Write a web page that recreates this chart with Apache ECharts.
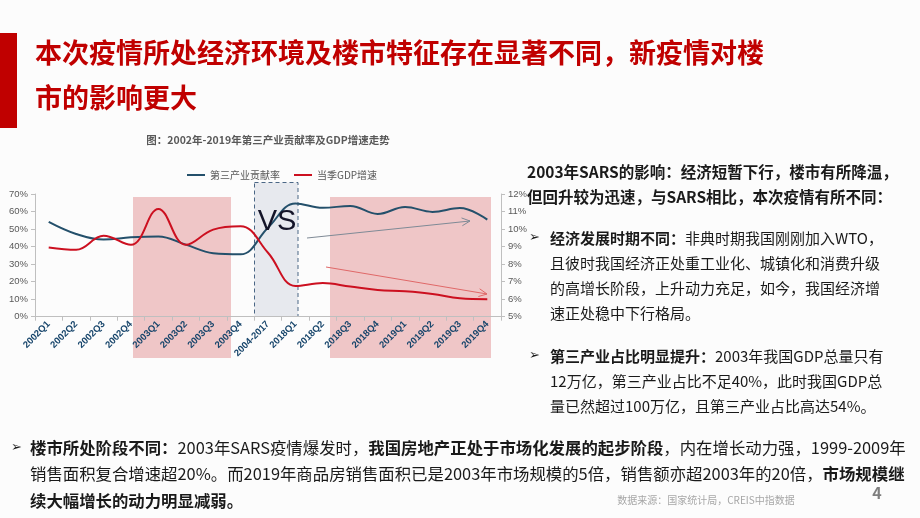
<!DOCTYPE html>
<html>
<head>
<meta charset="utf-8">
<script src="https://cdn.jsdelivr.net/npm/echarts@6/dist/echarts.min.js"></script>
<style>
html,body{margin:0;padding:0;background:#fcfcfc;}
#c{width:920px;height:518px;}
</style>
</head>
<body>
<div id="c"></div>
<script>
// ---- data ----
var categories = ['2002Q1','2002Q2','2002Q3','2002Q4','2003Q1','2003Q2','2003Q3','2003Q4','2004-2017','2018Q1','2018Q2','2018Q3','2018Q4','2019Q1','2019Q2','2019Q3','2019Q4'];
var tertiaryContribution = [54.1, 47.2, 44.0, 45.3, 45.8, 41.1, 36.2, 35.6, 50.8, 64.6, 62.1, 63.2, 58.6, 62.6, 59.8, 62.0, 55.4];
var gdpGrowth = [8.95, 8.82, 9.62, 9.1, 11.15, 9.1, 9.97, 10.16, 8.65, 6.75, 6.92, 6.72, 6.53, 6.45, 6.3, 6.05, 6.0];
var leftTicks = [0, 70, 10];   // min, max, interval
var rightTicks = [5, 12, 1];
var seriesNames = ['第三产业贡献率', '当季GDP增速'];

var FONT = '"Noto Sans CJK SC", "Noto Sans", sans-serif';
var chart = echarts.init(document.getElementById('c'), null, {renderer: 'canvas'});

function txt(x, y, text, size, opts) {
  opts = opts || {};
  return {
    type: 'text', x: x, y: y, z: 100,
    style: {
      text: text,
      fontSize: size,
      fontWeight: opts.bold ? 'bold' : 'normal',
      fontFamily: opts.family || FONT,
      fill: opts.color || '#1a1a1a',
      verticalAlign: 'middle',
      align: opts.align || 'left',
      rich: opts.rich
    }
  };
}
function richStyles(size, color) {
  return {
    b: {fontSize: size, fontWeight: 'bold', fontFamily: FONT, fill: color || '#1a1a1a'},
    n: {fontSize: size, fontWeight: 'normal', fontFamily: FONT, fill: color || '#1a1a1a'}
  };
}
function arrow(x1, y1, x2, y2, color) {
  var ang = Math.atan2(y2 - y1, x2 - x1);
  var L = 9, a = 0.45;
  var p1 = [x2 - L * Math.cos(ang - a), y2 - L * Math.sin(ang - a)];
  var p2 = [x2 - L * Math.cos(ang + a), y2 - L * Math.sin(ang + a)];
  return [
    {type: 'line', z: 50, shape: {x1: x1, y1: y1, x2: x2, y2: y2}, style: {stroke: color, lineWidth: 1}},
    {type: 'polyline', z: 50, shape: {points: [p1, [x2, y2], p2]}, style: {stroke: color, lineWidth: 1, fill: null}}
  ];
}

var rs15 = richStyles(15);
var rs16 = richStyles(16.4);

var graphics = [
  // red side bar
  {type: 'rect', z: 1, shape: {x: 0, y: 33, width: 17, height: 95}, style: {fill: '#c00000'}},
  txt(35, 53, '本次疫情所处经济环境及楼市特征存在显著不同，新疫情对楼', 27, {bold: true, color: '#c00000'}),
  txt(35, 98, '市的影响更大', 27, {bold: true, color: '#c00000'}),
  // chart title
  txt(268, 140, '图：2002年-2019年第三产业贡献率及GDP增速走势', 10.5, {bold: true, color: '#595959', align: 'center'}),
  // shaded periods
  {type: 'rect', z: -1, shape: {x: 133, y: 197, width: 98, height: 161}, style: {fill: '#efc6c7'}},
  {type: 'rect', z: -1, shape: {x: 330, y: 197, width: 161, height: 161}, style: {fill: '#efc6c7'}},
  {type: 'rect', z: -1, shape: {x: 254.5, y: 182.5, width: 43.5, height: 134}, style: {fill: '#e7e9ee', stroke: '#4a6685', lineWidth: 1, lineDash: [4, 3]}},
  txt(277, 222, 'VS', 29, {color: '#141428', align: 'center', family: '"Liberation Sans Narrow", "Liberation Sans", Arial, sans-serif'}),
  // right text block
  txt(527, 172, '2003年SARS的影响：经济短暂下行，楼市有所降温，', 15.5, {bold: true}),
  txt(527, 197, '但回升较为迅速，与SARS相比，本次疫情有所不同：', 15.5, {bold: true}),
  txt(529, 238, '➢', 13, {family: '"DejaVu Sans", sans-serif'}),
  txt(550, 238, '{b|经济发展时期不同：}{n|非典时期我国刚刚加入WTO，}', 15, {rich: rs15}),
  txt(550, 263, '且彼时我国经济正处重工业化、城镇化和消费升级', 15),
  txt(550, 288, '的高增长阶段，上升动力充足，如今，我国经济增', 15),
  txt(550, 313, '速正处稳中下行格局。', 15),
  txt(529, 356, '➢', 13, {family: '"DejaVu Sans", sans-serif'}),
  txt(550, 356, '{b|第三产业占比明显提升：}{n|2003年我国GDP总量只有}', 15, {rich: rs15}),
  txt(550, 381, '12万亿，第三产业占比不足40%，此时我国GDP总', 15),
  txt(550, 406, '量已然超过100万亿，且第三产业占比高达54%。', 15),
  // bottom block
  txt(11, 448, '➢', 13, {family: '"DejaVu Sans", sans-serif'}),
  txt(30, 448, '{b|楼市所处阶段不同：}{n|2003年SARS疫情爆发时，}{b|我国房地产正处于市场化发展的起步阶段}{n|，内在增长动力强，1999-2009年}', 16.4, {rich: rs16}),
  txt(30, 474, '{n|销售面积复合增速超20%。而2019年商品房销售面积已是2003年市场规模的5倍，销售额亦超2003年的20倍，}{b|市场规模继}', 16.4, {rich: rs16}),
  txt(30, 501, '{b|续大幅增长的动力明显减弱。}', 16.4, {rich: rs16}),
  txt(706, 500, '数据来源：国家统计局，CREIS中指数据', 10, {color: '#a6a6a6', align: 'center'}),
  txt(877, 493, '4', 16, {color: '#7f7f7f', align: 'center', bold: true})
];
graphics = graphics.concat(arrow(307, 238, 470, 221, '#7f8a96'));
graphics = graphics.concat(arrow(326, 267, 487, 294, '#e06868'));

var option = {
  backgroundColor: '#fcfcfc',
  animation: false,
  textStyle: {fontFamily: FONT},
  legend: {
    left: 182, top: 165,
    icon: 'rect', itemWidth: 18, itemHeight: 2, itemGap: 14,
    textStyle: {fontSize: 10, color: '#595959', fontFamily: FONT},
    data: seriesNames
  },
  grid: {left: 35, right: 419, top: 194, bottom: 201.3, containLabel: false},
  xAxis: {
    type: 'category',
    data: categories,
    boundaryGap: true,
    axisLine: {lineStyle: {color: '#bfbfbf'}},
    axisTick: {show: true, interval: 0, length: 4, lineStyle: {color: '#bfbfbf'}},
    axisLabel: {interval: 0, rotate: 45, margin: 6, fontSize: 9.5, fontWeight: 'bold', color: '#17456b', fontFamily: '"Liberation Sans Narrow", "Liberation Sans", Arial, sans-serif'}
  },
  yAxis: [
    {
      type: 'value', min: leftTicks[0], max: leftTicks[1], interval: leftTicks[2], position: 'left',
      axisLine: {show: true, lineStyle: {color: '#bfbfbf'}},
      axisTick: {show: true, length: 4, lineStyle: {color: '#bfbfbf'}},
      splitLine: {show: false},
      axisLabel: {formatter: '{value}%', fontSize: 9.5, color: '#595959', margin: 7, fontFamily: '"Liberation Sans", Arial, sans-serif'}
    },
    {
      type: 'value', min: rightTicks[0], max: rightTicks[1], interval: rightTicks[2], position: 'right',
      axisLine: {show: true, lineStyle: {color: '#bfbfbf'}},
      axisTick: {show: true, length: 4, lineStyle: {color: '#bfbfbf'}},
      splitLine: {show: false},
      axisLabel: {formatter: '{value}%', fontSize: 9.5, color: '#595959', margin: 7, fontFamily: '"Liberation Sans", Arial, sans-serif'}
    }
  ],
  series: [
    {
      name: seriesNames[0], type: 'line', yAxisIndex: 0, data: tertiaryContribution,
      smooth: 0.4, symbol: 'none', z: 5,
      lineStyle: {color: '#24506b', width: 2}, itemStyle: {color: '#24506b'}
    },
    {
      name: seriesNames[1], type: 'line', yAxisIndex: 1, data: gdpGrowth,
      smooth: 0.4, symbol: 'none', z: 5,
      lineStyle: {color: '#cc1020', width: 2}, itemStyle: {color: '#cc1020'}
    }
  ],
  graphic: graphics
};
chart.setOption(option);
</script>
</body>
</html>
